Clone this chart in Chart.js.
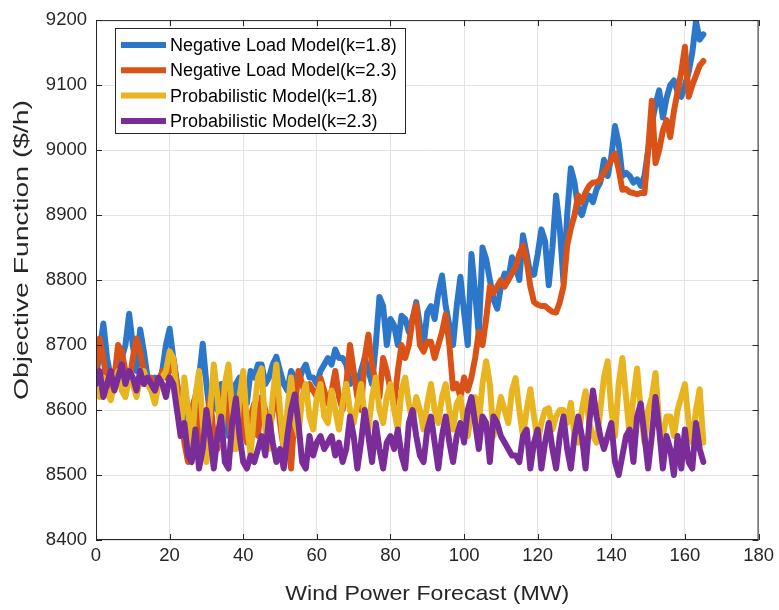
<!DOCTYPE html>
<html>
<head>
<meta charset="utf-8">
<script src="https://cdn.jsdelivr.net/npm/chart.js@4"></script>
<style>
html,body{margin:0;padding:0;background:#fff;}
#wrap{width:779px;height:610px;position:relative;}
</style>
</head>
<body>
<div id="wrap"><canvas id="c" width="779" height="610"></canvas></div>
<script>
const windMW = [
0,1,2,3,4,5,6,7,8,9,10,11,12,13,14,15,16,17,18,19,20,21,22,23,24,25,26,27,28,29,
30,31,32,33,34,35,36,37,38,39,40,41,42,43,44,45,46,47,48,49,50,51,52,53,54,55,56,57,58,59,
60,61,62,63,64,65,66,67,68,69,70,71,72,73,74,75,76,77,78,79,80,81,82,83,84,85,86,87,88,89,
90,91,92,93,94,95,96,97,98,99,100,101,102,103,104,105,106,107,108,109,110,111,112,113,114,115,116,117,118,119,
120,121,122,123,124,125,126,127,128,129,130,131,132,133,134,135,136,137,138,139,140,141,142,143,144,145,146,147,148,149,
150,151,152,153,154,155,156,157,158,159,160,161,162,163,164,165];

const negLoad18 = [
8650,8690,8733,8680,8650,8660,8650,8680,8700,8748,8700,8660,8724,8690,8650,8640,8650,8640,8660,8700,
8725,8680,8640,8610,8580,8570,8600,8620,8650,8702,8640,8590,8620,8600,8640,8620,8560,8600,8640,8650,
8620,8610,8660,8650,8670,8670,8640,8650,8670,8682,8660,8640,8630,8660,8650,8640,8660,8670,8650,8650,
8640,8660,8670,8680,8670,8693,8680,8680,8670,8640,8650,8640,8660,8680,8660,8640,8700,8774,8760,8700,
8740,8730,8700,8745,8740,8720,8740,8766,8730,8700,8750,8760,8740,8780,8807,8760,8730,8700,8760,8805,
8750,8700,8840,8780,8716,8850,8832,8800,8770,8756,8790,8810,8800,8835,8820,8800,8869,8840,8808,8808,
8840,8878,8860,8792,8850,8930,8880,8797,8900,8972,8950,8909,8900,8920,8930,8920,8940,8950,8985,8960,
8990,9037,9010,8960,8965,8960,8950,8955,8945,8960,9000,9040,9070,9092,9050,9080,9100,9107,9090,9082,
9100,9120,9150,9198,9170,9178];

const negLoad23 = [
8660,8710,8680,8640,8620,8650,8700,8690,8660,8640,8680,8710,8690,8660,8640,8650,8630,8640,8660,8650,
8660,8680,8640,8600,8550,8520,8600,8620,8560,8530,8580,8620,8560,8540,8600,8640,8600,8540,8580,8620,
8570,8550,8590,8610,8560,8620,8600,8560,8600,8630,8580,8540,8560,8510,8600,8660,8640,8620,8640,8630,
8620,8649,8630,8610,8629,8660,8620,8600,8640,8700,8660,8620,8600,8680,8716,8670,8640,8620,8680,8660,
8630,8609,8660,8700,8680,8700,8740,8762,8700,8690,8705,8705,8680,8700,8720,8747,8700,8633,8640,8620,
8650,8630,8650,8680,8720,8700,8740,8790,8780,8790,8800,8790,8800,8810,8820,8840,8853,8830,8790,8766,
8762,8760,8760,8755,8751,8750,8766,8790,8853,8880,8900,8930,8920,8935,8945,8950,8950,8955,8965,8975,
8985,8995,8970,8939,8940,8935,8934,8932,8934,8934,9000,9076,8980,9000,9030,9046,9020,9060,9090,9120,
9159,9082,9100,9115,9130,9137];

const prob18 = [
8640,8620,8650,8630,8615,8640,8660,8630,8620,8650,8640,8620,8650,8660,8640,8630,8610,8640,8650,8660,
8690,8680,8620,8560,8650,8600,8540,8620,8660,8580,8520,8600,8670,8620,8550,8640,8670,8600,8540,8620,
8660,8580,8530,8600,8650,8664,8570,8540,8620,8670,8600,8540,8600,8650,8580,8560,8620,8640,8590,8570,
8620,8640,8590,8580,8630,8600,8570,8610,8640,8600,8580,8610,8640,8590,8570,8620,8650,8600,8580,8620,
8640,8600,8570,8630,8650,8610,8580,8620,8600,8570,8610,8640,8600,8580,8620,8640,8600,8570,8610,8620,
8580,8560,8600,8620,8580,8640,8675,8640,8560,8590,8620,8600,8580,8630,8649,8600,8560,8600,8632,8590,
8550,8580,8600,8603,8570,8590,8600,8600,8580,8611,8560,8550,8600,8629,8580,8560,8550,8600,8650,8675,
8600,8560,8640,8680,8620,8560,8620,8664,8600,8550,8600,8620,8657,8580,8560,8590,8590,8560,8600,8620,
8640,8580,8550,8600,8632,8550];

const prob23 = [
8640,8660,8620,8640,8660,8630,8650,8670,8640,8660,8650,8630,8660,8640,8650,8640,8630,8650,8640,8620,
8650,8640,8600,8560,8580,8530,8520,8570,8510,8540,8600,8560,8510,8560,8590,8520,8510,8580,8618,8560,
8520,8510,8530,8520,8540,8560,8530,8590,8550,8520,8540,8510,8560,8600,8624,8580,8520,8510,8560,8530,
8550,8560,8540,8550,8560,8530,8550,8520,8540,8590,8560,8510,8550,8600,8560,8520,8580,8540,8510,8550,
8560,8540,8570,8530,8510,8580,8600,8560,8530,8520,8570,8590,8550,8510,8560,8590,8550,8520,8560,8580,
8550,8600,8620,8580,8540,8590,8580,8520,8590,8580,8560,8550,8540,8530,8530,8520,8560,8570,8510,8550,
8570,8510,8550,8580,8540,8510,8560,8590,8540,8510,8560,8590,8560,8510,8580,8630,8590,8560,8540,8560,
8580,8520,8500,8530,8560,8570,8520,8590,8610,8560,8510,8560,8620,8570,8510,8560,8540,8500,8560,8510,
8570,8520,8510,8580,8540,8520];

const seriesNames = ['Negative Load Model(k=1.8)','Negative Load Model(k=2.3)','Probabilistic Model(k=1.8)','Probabilistic Model(k=2.3)'];
const seriesValues = [negLoad18, negLoad23, prob18, prob23];
const seriesColors = ['#2c77c9','#d95319','#e8b420','#7a2c98'];
const xTicks = [0,20,40,60,80,100,120,140,160,180];
const yTicks = [8400,8500,8600,8700,8800,8900,9000,9100,9200];
const xTitle = 'Wind Power Forecast (MW)';
const yTitle = 'Objective Function ($/h)';

const FONT = '"Liberation Sans", Arial, Helvetica, sans-serif';
const TXT = '#262626';

const datasets = seriesValues.map((vals, i) => ({
  label: seriesNames[i],
  data: vals.map((v, j) => ({x: windMW[j], y: v})),
  borderColor: seriesColors[i],
  backgroundColor: seriesColors[i],
  borderWidth: 6,
  borderJoinStyle: 'round',
  borderCapStyle: 'round',
  pointRadius: 0,
  tension: 0,
  fill: false,
  order: 4 - i
}));

function stretchedText(ctx, text, cx, cy, targetW, rot) {
  const w = ctx.measureText(text).width;
  ctx.save();
  ctx.translate(cx, cy);
  if (rot) ctx.rotate(rot);
  ctx.scale(targetW / w, 1);
  ctx.textAlign = 'center';
  ctx.textBaseline = 'middle';
  ctx.fillText(text, 0, 0);
  ctx.restore();
}

const boxPlugin = {
  id: 'boxPlugin',
  afterDatasetsDraw(chart) {
    const {ctx, chartArea: a, scales} = chart;
    ctx.save();
    ctx.strokeStyle = TXT;
    ctx.lineWidth = 1;
    ctx.strokeRect(a.left + 0.5, a.top + 0.5, a.right - a.left - 1, a.bottom - a.top - 1);
    const tl = 6;
    ctx.beginPath();
    xTicks.forEach(t => {
      const px = Math.round(scales.x.getPixelForValue(t)) + 0.5;
      ctx.moveTo(px, a.bottom); ctx.lineTo(px, a.bottom - tl);
      ctx.moveTo(px, a.top); ctx.lineTo(px, a.top + tl);
    });
    yTicks.forEach(t => {
      const py = Math.round(scales.y.getPixelForValue(t)) + 0.5;
      ctx.moveTo(a.left, py); ctx.lineTo(a.left + tl, py);
      ctx.moveTo(a.right, py); ctx.lineTo(a.right - tl, py);
    });
    ctx.stroke();
    // legend
    const lx = 115, ly = 28, lw = 290, lh = 105;
    ctx.fillStyle = '#ffffff';
    ctx.fillRect(lx, ly, lw, lh);
    ctx.strokeStyle = TXT;
    ctx.strokeRect(lx + 0.5, ly + 0.5, lw, lh);
    ctx.font = '18px ' + FONT;
    ctx.textBaseline = 'middle';
    ctx.textAlign = 'left';
    seriesNames.forEach((n, i) => {
      const y = ly + 17 + i * 25.3;
      ctx.strokeStyle = seriesColors[i];
      ctx.lineWidth = 6;
      ctx.beginPath();
      ctx.moveTo(121, y); ctx.lineTo(166, y);
      ctx.stroke();
      ctx.fillStyle = '#000';
      ctx.fillText(n, 170, y + 1);
    });
    // axis titles
    ctx.fillStyle = TXT;
    ctx.font = '21px ' + FONT;
    stretchedText(ctx, xTitle, (a.left + a.right) / 2, 594, 284, 0);
    stretchedText(ctx, yTitle, 22, 250, 300, -Math.PI / 2);
    ctx.restore();
  }
};

new Chart(document.getElementById('c'), {
  type: 'line',
  data: {datasets},
  plugins: [boxPlugin],
  options: {
    responsive: false,
    animation: false,
    layout: {padding: {left: 0, right: 17, top: 16, bottom: 0}},
    plugins: {legend: {display: false}, tooltip: {enabled: false}},
    scales: {
      x: {
        type: 'linear', min: 0, max: 180,
        afterBuildTicks: s => { s.ticks = xTicks.map(v => ({value: v})); },
        afterFit: s => { s.height = 70; },
        grid: {color: '#e3e3e3', drawTicks: false, lineWidth: 1},
        border: {display: false},
        ticks: {color: TXT, font: {family: FONT, size: 18.5}, padding: 5, maxRotation: 0, callback: v => String(v)}
      },
      y: {
        type: 'linear', min: 8400, max: 9200,
        afterBuildTicks: s => { s.ticks = yTicks.map(v => ({value: v})); },
        afterFit: s => { s.width = 96; },
        grid: {color: '#e3e3e3', drawTicks: false, lineWidth: 1},
        border: {display: false},
        ticks: {color: TXT, font: {family: FONT, size: 18.5}, padding: 9, callback: v => String(v)}
      }
    }
  }
});
</script>
</body>
</html>
